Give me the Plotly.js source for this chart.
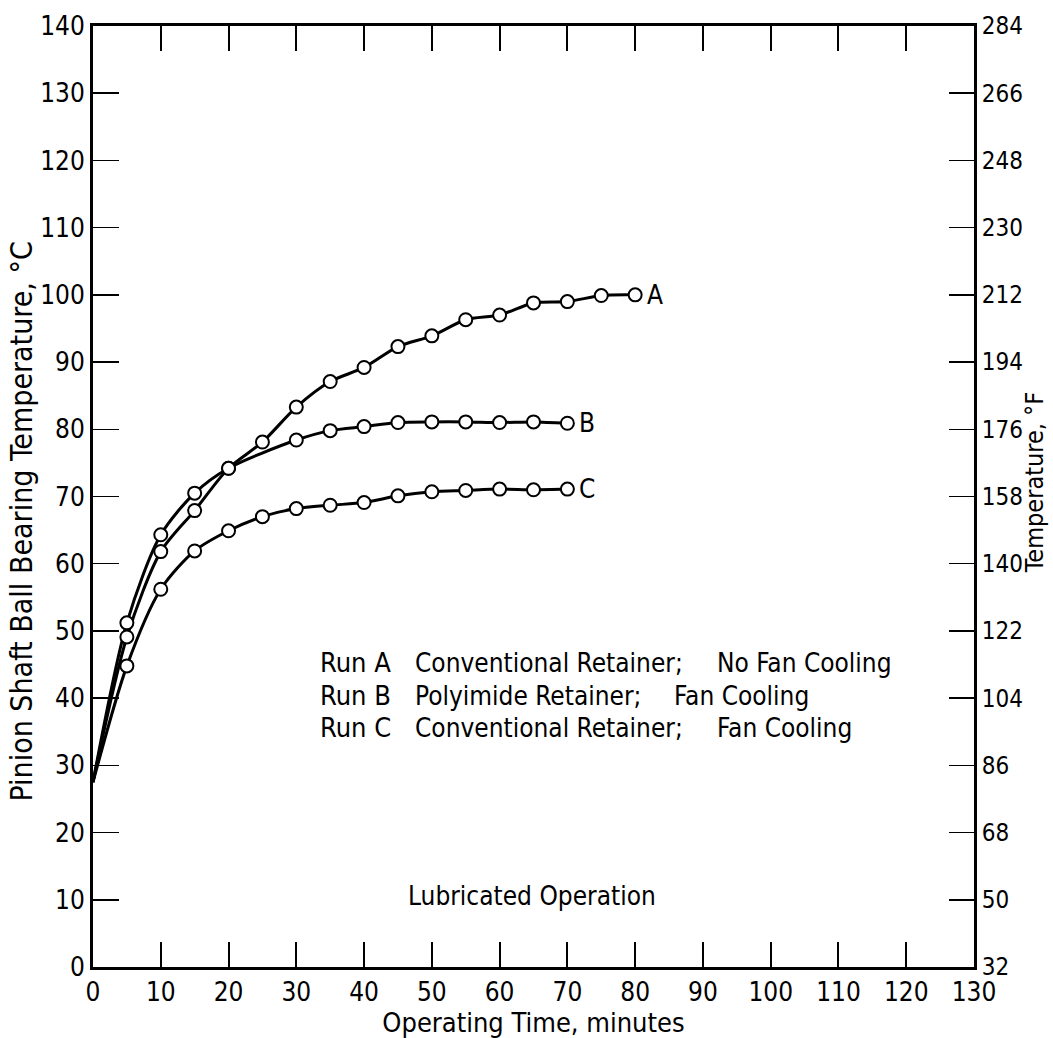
<!DOCTYPE html>
<html>
<head>
<meta charset="utf-8">
<script src="https://cdn.plot.ly/plotly-3.0.1.min.js"></script>
<style>html,body{margin:0;padding:0;background:#fff;}#chart{width:1053px;height:1038px;}</style>
</head>
<body>
<div id="chart"></div>
<script>
// Operating time, minutes
const timeA = [0, 5, 10, 15, 20, 25, 30, 35, 40, 45, 50, 55, 60, 65, 70, 75, 80];
const tempA = [27.5, 49.1, 61.8, 67.9, 74.2, 78.1, 83.3, 87.1, 89.2, 92.3, 93.9, 96.3, 97.0, 98.8, 99.0, 99.9, 100.0];
const timeB = [0, 5, 10, 15, 20, 30, 35, 40, 45, 50, 55, 60, 65, 70];
const tempB = [27.5, 51.2, 64.3, 70.5, 74.2, 78.4, 79.8, 80.4, 81.0, 81.1, 81.1, 81.0, 81.1, 80.9];
const timeC = [0, 5, 10, 15, 20, 25, 30, 35, 40, 45, 50, 55, 60, 65, 70];
const tempC = [27.5, 44.8, 56.2, 61.9, 64.9, 67.0, 68.2, 68.7, 69.1, 70.1, 70.7, 70.9, 71.1, 71.0, 71.1];
const runLabels = ["A", "B", "C"];
const xTicks = [0,10,20,30,40,50,60,70,80,90,100,110,120,130];
const yTicksC = [0,10,20,30,40,50,60,70,80,90,100,110,120,130,140];
const yTicksF = [32,50,68,86,104,122,140,158,176,194,212,230,248,266,284];
const runNames = ["Run A", "Run B", "Run C"];
const retainers = ["Conventional Retainer;", "Polyimide Retainer;", "Conventional Retainer;"];
const cooling = ["No Fan Cooling", "Fan Cooling", "Fan Cooling"];

const FONT = "Liberation Sans Narrow, DejaVu Sans Condensed, Arial Narrow, sans-serif";
const series = [[timeA,tempA],[timeB,tempB],[timeC,tempC]];
const traces = [];
series.forEach(([t,v]) => {
  traces.push({x:t, y:v, mode:'lines', line:{color:'#000', width:3, shape:'spline', smoothing:0.8}, hoverinfo:'skip', showlegend:false});
});
series.forEach(([t,v]) => {
  traces.push({x:t.slice(1), y:v.slice(1), mode:'markers', marker:{symbol:'circle', size:13, color:'#fff', line:{color:'#000', width:2}}, showlegend:false});
});
// invisible trace for the Fahrenheit axis
traces.push({x:[0], y:[32], yaxis:'y2', mode:'markers', marker:{opacity:0}, showlegend:false, hoverinfo:'skip'});

const annotations = [];
series.forEach(([t,v], i) => {
  annotations.push({x:t[t.length-1], y:v[v.length-1], xref:'x', yref:'y', text:runLabels[i], showarrow:false,
    xanchor:'left', xshift:10, font:{family:FONT, size:26, color:'#000'}});
});
const rowY = [0.305, 0.270, 0.236];
const col3X = [0.706, 0.657, 0.706];
for (let i = 0; i < 3; i++) {
  annotations.push({x:0.255, y:rowY[i], xref:'paper', yref:'paper', text:runNames[i], showarrow:false, xanchor:'left', font:{family:FONT, size:27, color:'#000'}});
  annotations.push({x:0.363, y:rowY[i], xref:'paper', yref:'paper', text:retainers[i], showarrow:false, xanchor:'left', font:{family:FONT, size:26, color:'#000'}});
  annotations.push({x:col3X[i], y:rowY[i], xref:'paper', yref:'paper', text:cooling[i], showarrow:false, xanchor:'left', font:{family:FONT, size:26, color:'#000'}});
}
annotations.push({x:0.498, y:0.057, xref:'paper', yref:'paper', text:'Lubricated Operation', showarrow:false, xanchor:'center', font:{family:FONT, size:26, color:'#000'}});
annotations.push({x:1.069, y:0.515, xref:'paper', yref:'paper', text:'Temperature, °F', textangle:-90, showarrow:false, xanchor:'center', yanchor:'middle', font:{family:FONT, size:25, color:'#000'}});
annotations.push({x:-0.081, y:0.473, xref:'paper', yref:'paper', text:'Pinion Shaft Ball Bearing Temperature, °C', textangle:-90, showarrow:false, xanchor:'center', yanchor:'middle', font:{family:FONT, size:30, color:'#000'}});

const layout = {
  width:1053, height:1038,
  margin:{l:93, r:79, t:26, b:71},
  paper_bgcolor:'#fff', plot_bgcolor:'#fff',
  font:{family:FONT, color:'#000', size:25},
  xaxis:{range:[0,130], tickvals:xTicks, ticktext:xTicks.map(String), ticks:'inside', ticklen:25, tickwidth:2, tickcolor:'#000',
    showline:true, linewidth:3, linecolor:'#000', mirror:'ticks', showgrid:false, zeroline:false,
    tickfont:{family:FONT, size:26}, title:{text:'Operating Time, minutes', font:{family:FONT, size:27}, standoff:0}},
  yaxis:{range:[0,140], tickvals:yTicksC, ticktext:yTicksC.map(String), ticks:'inside', ticklen:26, tickwidth:1.5, tickcolor:'#000',
    showline:true, linewidth:3, linecolor:'#000', showgrid:false, zeroline:false,
    tickfont:{family:FONT, size:26}},
  yaxis2:{overlaying:'y', side:'right', range:[32,284], tickvals:yTicksF, ticktext:yTicksF.map(String), ticks:'inside', ticklen:25, tickwidth:1.5, tickcolor:'#000',
    showline:true, linewidth:3, linecolor:'#000', showgrid:false, zeroline:false,
    tickfont:{family:FONT, size:24}},
  annotations:annotations
};
Plotly.newPlot('chart', traces, layout, {displayModeBar:false, staticPlot:true});
</script>
</body>
</html>
